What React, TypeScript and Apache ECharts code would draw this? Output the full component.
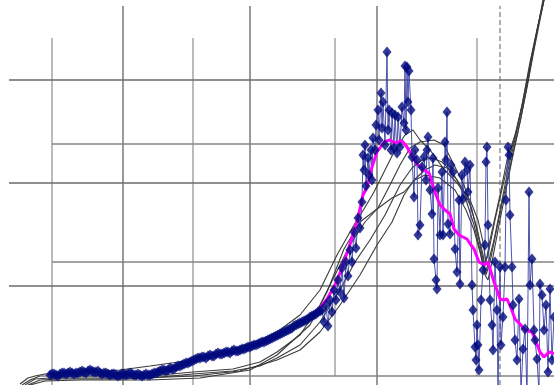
import React, { useEffect, useRef } from "react";
import * as echarts from "echarts";

// Scanned background grid (chart units)
const fullGridX = [123, 250, 377];
const dashedGridX = [500];
const partialGridX = [52, 193];
const shortGridX = [335, 477];
const fullGridY = [305, 202, 99];
const partialGridY = [241, 123, 9];

// Observed series (navy diamonds)
const observed: [number, number][] = [
  [50, 10], [52, 11], [54, 11], [56, 10], [58, 9], [60, 11], [62, 12], [64, 12], [66, 11], [68, 12],
  [70, 13], [72, 12], [74, 11], [76, 12], [78, 12], [80, 13], [82, 14], [84, 13], [86, 12], [88, 14],
  [90, 15], [92, 14], [94, 13], [96, 13], [98, 14], [100, 12], [102, 11], [104, 12], [106, 12], [108, 11],
  [110, 10], [112, 11], [114, 11], [116, 10], [118, 9], [120, 10], [122, 11], [124, 11], [126, 10], [128, 11],
  [130, 12], [132, 11], [134, 10], [136, 10], [138, 11], [140, 10], [142, 9], [144, 10], [146, 11], [148, 10],
  [150, 10], [152, 11], [154, 12], [156, 12], [158, 13], [160, 14], [162, 15], [164, 15], [166, 14], [168, 15],
  [170, 17], [172, 16], [174, 16], [176, 18], [178, 19], [180, 19], [182, 20], [184, 21], [186, 22], [188, 22],
  [190, 23], [192, 24], [194, 25], [196, 26], [198, 27], [200, 27], [202, 28], [204, 28], [206, 27], [208, 29],
  [210, 30], [212, 29], [214, 29], [216, 31], [218, 32], [220, 31], [222, 31], [224, 32], [226, 33], [228, 33],
  [230, 32], [232, 34], [234, 35], [236, 34], [238, 34], [240, 35], [242, 36], [244, 36], [246, 37], [248, 38],
  [250, 38], [252, 39], [254, 40], [256, 40], [258, 41], [260, 42], [262, 43], [264, 43], [266, 44], [268, 45],
  [270, 46], [272, 47], [274, 48], [276, 49], [278, 50], [280, 51], [282, 52], [284, 53], [286, 54], [288, 55],
  [290, 56], [292, 57], [294, 59], [296, 60], [298, 61], [300, 62], [302, 63], [304, 64], [306, 65], [308, 66],
  [310, 68], [312, 69], [314, 70], [316, 71], [318, 73], [320, 74],
  [322, 75], [324, 63], [326, 80], [328, 59], [330, 85], [332, 73], [334, 95], [336, 85], [338, 105], [340, 93],
  [342, 117], [344, 87], [346, 123], [348, 109], [350, 135], [352, 123], [354, 153], [356, 137], [358, 167], [360, 157],
  [362, 183], [363, 230], [364, 215], [365, 240], [366, 199], [368, 227], [369, 210], [371, 235], [372, 205], [373, 247],
  [375, 235], [376, 260], [378, 275], [379, 245], [381, 292], [382, 257], [383, 283], [385, 240], [387, 333], [388, 255],
  [389, 275], [391, 235], [392, 272], [394, 237], [395, 270], [397, 232], [398, 268], [400, 238], [402, 278], [404, 262],
  [405, 319], [406, 255], [407, 318], [408, 283], [409, 314], [411, 275], [412, 228],
  [414, 188], [415, 235], [417, 225], [418, 150], [420, 160], [422, 218], [424, 228], [426, 205], [427, 235], [428, 248],
  [430, 195], [432, 171], [433, 227], [434, 126], [436, 105], [437, 96], [438, 197], [440, 150], [442, 213], [443, 150],
  [445, 243], [446, 225], [447, 273], [448, 161], [450, 151], [451, 220], [453, 213], [455, 136], [457, 113], [459, 185],
  [460, 101], [462, 210], [463, 186], [465, 223], [467, 215], [468, 193], [470, 220],
  [472, 100], [473, 75], [475, 38], [476, 25], [477, 60], [478, 40], [479, 15], [481, 85], [483, 115], [485, 140],
  [486, 223], [487, 238], [488, 160], [490, 85], [492, 60], [493, 35], [495, 123], [497, 75], [498, -8], [500, 118],
  [501, 40], [503, 68], [505, 118], [506, 185], [508, 238], [509, 230], [510, 170], [512, 118], [513, 80], [515, 45],
  [517, 25], [519, 86], [521, -6], [523, 36], [525, 56], [527, -10], [529, 193], [530, 100], [532, 126], [534, 55],
  [535, 45], [537, 26], [539, -8], [540, 101], [542, 90], [544, 55], [546, 80], [548, 13], [550, 96], [552, 25], [554, 68],
];

// Smoothed series (magenta)
const movingAverage: [number, number][] = [
  [300, 63], [310, 69], [320, 77], [327, 86], [335, 100], [342, 117], [349, 138], [357, 163], [363, 190], [367, 198],
  [372, 218], [377, 233], [384, 243], [390, 245], [395, 242], [402, 244], [407, 238], [412, 229], [417, 221], [424, 215],
  [429, 212], [432, 202], [436, 190], [440, 180], [445, 175], [450, 171], [454, 156], [459, 150], [463, 148], [467, 146],
  [471, 140], [474, 136], [479, 123], [484, 120], [488, 123], [491, 113], [494, 103], [497, 95], [500, 86], [504, 85],
  [507, 86], [511, 77], [515, 66], [520, 61], [524, 56], [528, 54], [532, 53], [536, 43], [540, 33], [544, 28],
  [548, 32], [551, 33], [554, 31],
];

// Scanned model curves (black)
const curveA: [number, number][] = [
  [20, 1], [28, 7], [35, 9], [45, 11], [60, 12], [90, 13], [120, 15], [150, 19], [193, 25], [230, 35],
  [260, 45], [277, 53], [300, 70], [320, 95], [337, 130], [354, 160], [364, 176], [374, 193], [385, 215], [395, 235],
  [405, 250], [413, 255], [420, 245], [430, 235], [443, 217], [457, 202], [470, 185], [478, 165], [483, 143], [486, 123],
  [490, 145], [500, 190], [507, 225], [515, 250], [522, 280], [530, 320], [537, 355], [543, 380], [547, 400],
];
const curveB: [number, number][] = [
  [22, 0], [30, 5], [40, 9], [55, 9], [100, 9], [150, 9], [193, 13], [233, 16], [260, 23], [277, 33],
  [300, 50], [320, 80], [335, 110], [350, 140], [365, 163], [378, 177], [390, 200], [400, 220], [410, 237], [420, 243],
  [434, 245], [444, 240], [454, 220], [464, 200], [472, 175], [479, 145], [484, 120], [488, 130], [495, 165], [503, 200],
  [510, 230], [518, 260], [525, 290], [532, 327], [539, 363], [545, 390],
];
const curveC: [number, number][] = [
  [25, 0], [35, 6], [50, 7], [100, 7], [150, 7], [193, 11], [233, 14], [260, 19], [277, 27], [300, 40],
  [320, 63], [340, 95], [355, 123], [370, 145], [385, 170], [400, 200], [412, 217], [422, 225], [432, 227], [442, 223],
  [452, 213], [462, 197], [470, 180], [477, 157], [483, 130], [486, 110], [490, 123], [497, 157], [505, 195], [512, 227],
  [520, 263], [527, 297], [534, 335], [541, 370], [545, 390],
];
const curveD: [number, number][] = [
  [28, 0], [40, 5], [60, 6], [120, 6], [193, 9], [240, 14], [277, 25], [300, 35], [320, 53], [340, 80],
  [360, 110], [377, 140], [392, 163], [404, 190], [414, 205], [425, 215], [435, 220], [447, 217], [457, 205], [466, 185],
  [474, 160], [480, 135], [485, 110], [488, 105], [492, 123], [499, 160], [506, 195], [513, 230], [521, 267], [528, 305],
  [535, 343], [542, 380], [545, 395],
];
const curveE: [number, number][] = [
  [30, 0], [45, 4], [80, 5], [150, 5], [200, 7], [250, 15], [277, 30], [310, 60], [327, 93], [344, 136],
  [360, 163], [377, 176], [392, 187], [404, 193], [415, 205], [425, 210], [440, 207], [455, 195], [466, 175], [474, 155],
  [480, 133], [484, 115], [487, 117], [494, 145], [501, 180], [508, 215], [516, 250], [523, 285], [530, 323], [538, 360],
  [544, 387],
];
const modelCurves = [curveA, curveB, curveC, curveD, curveE];

const X_MAX = 554;
const Y_MAX = 385;

export default function App() {
  const ref = useRef<HTMLDivElement>(null);

  useEffect(() => {
    if (!ref.current) return;
    const chart = echarts.init(ref.current, undefined, { renderer: "svg" });

    const gridSeg = (pts: [number, number][], color: string, width: number, type: any = "solid") => ({
      type: "line",
      data: pts,
      symbol: "none",
      silent: true,
      z: 1,
      lineStyle: { color, width, type },
    });

    const gridSeries: any[] = [
      ...fullGridX.map((x) => gridSeg([[x, 0], [x, 379]], "#6e6e6e", 1.4)),
      ...dashedGridX.map((x) => gridSeg([[x, 0], [x, 379]], "#7a7a7a", 1.2, [5, 3])),
      ...partialGridX.map((x) => gridSeg([[x, 0], [x, 347]], "#969696", 1.3)),
      ...shortGridX.map((x) => gridSeg([[x, 9], [x, 347]], "#969696", 1.3)),
      ...fullGridY.map((y) => gridSeg([[9, y], [X_MAX, y]], "#6a6a6a", 1.4)),
      ...partialGridY.map((y) => gridSeg([[52, y], [X_MAX, y]], "#858585", 1.3)),
    ];

    const curveSeries: any[] = modelCurves.map((c) => ({
      type: "line",
      data: c,
      symbol: "none",
      silent: true,
      z: 2,
      lineStyle: { color: "#3a3a3a", width: 1.1 },
    }));

    chart.setOption({
      animation: false,
      grid: { left: 0, right: 0, top: 0, bottom: 0, containLabel: false },
      xAxis: {
        type: "value",
        min: 0,
        max: X_MAX,
        show: false,
        splitLine: { show: false },
      },
      yAxis: {
        type: "value",
        min: 0,
        max: Y_MAX,
        show: false,
        splitLine: { show: false },
      },
      series: [
        ...gridSeries,
        ...curveSeries,
        {
          type: "line",
          data: observed,
          symbol: "none",
          z: 3,
          lineStyle: { color: "#3b40a3", width: 1, opacity: 0.9 },
        },
        {
          type: "line",
          data: movingAverage,
          symbol: "none",
          z: 4,
          lineStyle: { color: "#ff00ff", width: 3 },
        },
        {
          type: "scatter",
          data: observed,
          symbol: "diamond",
          symbolSize: [9, 11],
          z: 5,
          itemStyle: { color: "#000a7c" },
        },
      ],
    });

    return () => chart.dispose();
  }, []);

  return (
    <div
      ref={ref}
      style={{ position: "absolute", left: 0, top: 0, width: 554, height: 385, background: "#ffffff" }}
    />
  );
}
